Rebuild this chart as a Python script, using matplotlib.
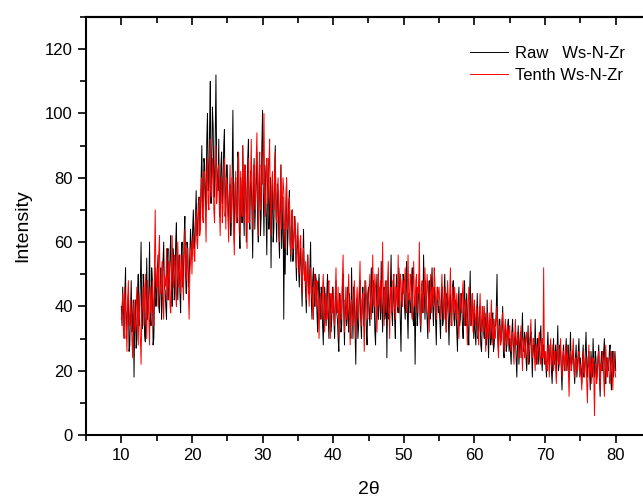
import numpy as np
import matplotlib
matplotlib.use("Agg")
import matplotlib.pyplot as plt
from matplotlib.ticker import MultipleLocator

plt.rcParams['font.family'] = ['Liberation Sans', 'DejaVu Sans']

# 2theta grid, 10..80 in steps of 0.1 (one row = 5 degrees)
two_theta = np.round(np.linspace(10.0, 80.0, 701), 1)

raw = [
    40,34, 46,38, 31,44, 52,30, 36,40, 44,26, 28,38, 48,32, 35,42, 18,36, 42,27, 30,44, 50,34, 38,48, 60,36, 33,50, 46,31, 29,40, 55,36, 40,45, 60,38, 34,52, 48,28, 30,44, 52,40,
    44,50, 56,40, 38,48, 52,36, 42,54, 60,46, 45,40, 36,52, 58,42, 48,56, 62,46, 40,58, 54,42, 46,60, 66,48, 42,52, 56,44, 38,56, 60,46, 50,62, 68,50, 44,60, 58,46, 48,56, 64,58,
    56,64, 70,58, 60,68, 76,62, 62,72, 74,66, 66,80, 90,70, 72,86, 84,74, 70,92, 100,76, 78,96, 110,72, 82,102, 96,78, 74,94, 112,84, 80,76, 92,68, 70,84, 88,72, 76,90, 95,68, 72,84,
    84,70, 64,76, 78,62, 68,82, 101,72, 60,78, 80,68, 66,88, 86,64, 58,80, 74,66, 90,72, 62,84, 82,60, 70,86, 92,68, 64,82, 78,70, 55,74, 86,64, 72,80, 88,66, 60,78, 84,62, 68,90,
    101,74, 62,84, 80,68, 56,76, 86,64, 70,80, 52,72, 78,60, 64,82, 90,70, 60,78, 74,62, 55,72, 84,58, 66,74, 36,64, 50,70, 80,56, 62,72, 76,60, 54,66, 70,54, 58,68, 66,56, 48,62,
    62,52, 46,56, 58,48, 40,54, 64,50, 50,44, 38,52, 56,46, 44,52, 60,42, 36,48, 52,42, 40,50, 48,38, 32,46, 50,40, 36,46, 44,34, 28,42, 46,38, 34,44, 50,36, 30,44, 42,32, 36,46,
    44,36, 30,42, 48,38, 36,30, 26,44, 42,32, 34,46, 50,38, 28,42, 40,34, 46,36, 32,44, 38,30, 52,40, 30,46, 44,32, 22,42, 40,30, 34,44, 48,36, 30,42, 46,34, 36,48, 42,32, 28,44,
    46,38, 34,44, 52,40, 38,48, 44,32, 28,42, 50,38, 36,46, 42,36, 54,40, 32,44, 46,36, 38,48, 24,42, 48,36, 40,46, 56,38, 34,48, 44,36, 30,46, 50,40, 38,52, 46,36, 26,44, 42,50,
    48,40, 36,46, 54,38, 30,44, 44,38, 40,48, 52,36, 34,42, 22,40, 46,34, 38,46, 50,36, 32,42, 44,38, 56,44, 36,48, 42,36, 30,44, 48,36, 38,46, 52,40, 34,46, 44,36, 28,42, 46,38,
    40,36, 30,42, 46,34, 36,44, 50,38, 32,44, 42,36, 28,40, 44,34, 38,46, 48,36, 34,42, 40,32, 26,40, 46,34, 36,44, 42,34, 30,42, 48,36, 34,44, 38,32, 28,42, 51,34, 36,44, 40,30,
    38,32, 28,36, 44,30, 32,40, 36,28, 26,34, 40,32, 30,38, 34,28, 42,32, 24,34, 36,28, 30,36, 38,26, 28,34, 34,40, 50,30, 26,36, 36,28, 30,34, 40,26, 24,32, 34,26, 28,34, 36,26,
    30,26, 22,32, 36,28, 26,30, 32,24, 18,28, 34,22, 28,32, 24,30, 38,26, 26,32, 30,24, 20,28, 34,22, 24,30, 32,26, 18,28, 28,24, 36,26, 22,30, 30,22, 26,30, 34,24, 20,28, 28,22,
    26,22, 18,26, 32,24, 22,28, 28,20, 16,24, 30,22, 24,28, 20,26, 34,20, 22,28, 26,20, 14,24, 28,22, 20,26, 30,20, 24,28, 18,24, 32,22, 22,26, 26,20, 16,24, 28,18, 22,26, 30,20,
    24,20, 16,24, 28,18, 20,26, 32,22, 18,24, 26,20, 14,26, 22,18, 30,22, 18,26, 24,18, 20,24, 28,18, 12,22, 26,20, 22,26, 30,18, 16,24, 24,20, 20,26, 28,18, 14,24, 26,18, 22,26,
    20,
]

tenth = [
    36,40, 44,32, 30,46, 40,34, 26,42, 48,36, 34,42, 38,30, 24,38, 42,34, 32,40, 46,36, 28,44, 36,30, 22,38, 40,46, 34,42, 50,40, 30,48, 44,36, 28,46, 38,42, 48,40, 34,54, 70,48,
    46,52, 40,56, 62,44, 44,50, 54,42, 36,50, 48,46, 58,44, 42,54, 52,40, 38,50, 62,48, 46,56, 54,44, 40,52, 60,46, 50,56, 44,50, 56,48, 42,58, 64,52, 48,56, 58,44, 36,50, 54,60,
    50,58, 62,56, 54,66, 70,60, 58,68, 74,62, 64,76, 80,68, 66,82, 78,70, 60,80, 86,72, 70,84, 92,76, 74,86, 82,70, 66,80, 90,72, 76,82, 84,70, 62,78, 80,66, 70,82, 86,74, 64,80,
    78,68, 60,74, 84,70, 66,80, 76,64, 56,72, 82,66, 70,78, 88,72, 62,82, 74,68, 90,76, 66,84, 80,70, 58,78, 86,66, 72,80, 92,74, 64,82, 84,72, 70,86, 94,76, 62,82, 88,70, 74,84,
    78,86, 100,74, 68,82, 86,72, 74,84, 92,70, 62,78, 82,72, 70,80, 88,68, 66,76, 80,70, 60,74, 84,64, 72,80, 76,66, 58,72, 80,64, 66,70, 74,60, 56,66, 70,58, 60,64, 68,56, 52,62,
    66,56, 50,60, 62,52, 44,56, 58,50, 48,54, 42,48, 56,46, 40,50, 52,44, 46,40, 36,48, 50,42, 40,48, 46,38, 30,42, 44,38, 36,46, 50,40, 32,44, 42,36, 38,46, 48,36, 30,44, 40,38,
    46,38, 34,44, 52,40, 38,46, 30,40, 44,36, 40,48, 56,42, 32,40, 46,36, 38,44, 50,38, 28,40, 42,34, 36,44, 48,38, 30,42, 46,36, 40,46, 54,40, 34,42, 44,36, 26,40, 48,44, 38,36,
    42,46, 50,40, 36,44, 56,42, 40,50, 46,38, 32,44, 52,40, 44,48, 38,46, 60,42, 34,44, 48,38, 42,48, 54,40, 30,44, 46,38, 40,48, 50,42, 36,46, 44,40, 56,44, 38,50, 48,42, 40,48,
    44,48, 52,40, 38,46, 56,42, 42,50, 48,38, 36,46, 54,42, 40,48, 50,38, 46,44, 60,40, 34,46, 48,38, 42,46, 52,40, 38,50, 46,42, 32,44, 50,38, 44,46, 40,52, 48,40, 36,46, 42,44,
    46,40, 36,44, 50,42, 40,36, 44,46, 32,40, 48,42, 38,44, 52,38, 34,46, 42,38, 46,40, 36,44, 40,36, 30,38, 44,40, 38,44, 48,38, 34,42, 42,36, 28,38, 46,42, 36,34, 40,44, 32,38,
    42,36, 34,40, 38,32, 28,38, 44,36, 32,40, 36,32, 40,34, 26,32, 38,30, 34,38, 30,36, 42,32, 28,36, 36,30, 32,36, 40,30, 24,32, 34,28, 30,36, 38,30, 26,34, 36,28, 32,34, 28,32,
    34,28, 26,30, 32,26, 22,30, 36,28, 28,32, 30,24, 24,30, 34,26, 20,28, 30,24, 26,30, 32,26, 22,28, 28,32, 36,26, 24,30, 30,24, 20,28, 28,22, 26,30, 32,24, 22,28, 30,24, 52,26,
    22,26, 22,20, 28,24, 18,26, 30,22, 24,28, 20,24, 26,20, 16,24, 28,22, 22,26, 30,22, 18,24, 26,20, 24,28, 20,24, 28,20, 12,22, 26,20, 22,26, 30,22, 18,24, 24,20, 20,24, 26,18,
    22,18, 14,22, 26,20, 18,24, 24,16, 10,22, 28,18, 20,24, 16,22, 24,18, 6,20, 22,16, 18,24, 26,20, 14,22, 20,26, 24,18, 12,22, 28,20, 18,24, 22,18, 16,22, 26,20, 14,26, 24,20,
    18,
]

fig = plt.figure(figsize=(6.43, 4.99), dpi=100)
ax = fig.add_axes([86 / 643, 64 / 499, 565 / 643, 418 / 499])

ax.plot(two_theta, raw, color='black', lw=0.7, label='Raw   Ws-N-Zr')
ax.plot(two_theta, tenth, color='red', lw=0.7, label='Tenth Ws-N-Zr')

ax.set_xlim(5, 85)
ax.set_ylim(0, 130)
ax.xaxis.set_minor_locator(MultipleLocator(5))
ax.yaxis.set_major_locator(MultipleLocator(20))
ax.yaxis.set_minor_locator(MultipleLocator(10))
ax.set_xticks(range(10, 81, 10))
ax.tick_params(which='both', direction='out', width=1.2, labelsize=12,
               top=False, right=False)
ax.tick_params(which='major', length=6)
ax.tick_params(which='minor', length=4)

# inward ticks on top and right
top = ax.secondary_xaxis('top')
top.xaxis.set_major_locator(MultipleLocator(10))
top.xaxis.set_minor_locator(MultipleLocator(5))
top.tick_params(which='both', direction='in', width=1.2, labeltop=False)
top.tick_params(which='major', length=6)
top.tick_params(which='minor', length=4)
right = ax.secondary_yaxis('right')
right.yaxis.set_major_locator(MultipleLocator(20))
right.yaxis.set_minor_locator(MultipleLocator(10))
right.tick_params(which='both', direction='in', width=1.2, labelright=False)
right.tick_params(which='major', length=6)
right.tick_params(which='minor', length=4)

for s in ax.spines.values():
    s.set_linewidth(1.5)
top.spines['top'].set_linewidth(1.5)
right.spines['right'].set_linewidth(1.5)

ax.set_xlabel('2θ', fontsize=14, labelpad=13)
ax.set_ylabel('Intensity', fontsize=14, labelpad=10)

ax.legend(loc='upper right', bbox_to_anchor=(0.985, 0.925), bbox_transform=fig.transFigure,
          frameon=False, fontsize=12, handlelength=2.3, handletextpad=0.4,
          borderpad=0, labelspacing=0.45)

fig.savefig('out.png', dpi=100)
